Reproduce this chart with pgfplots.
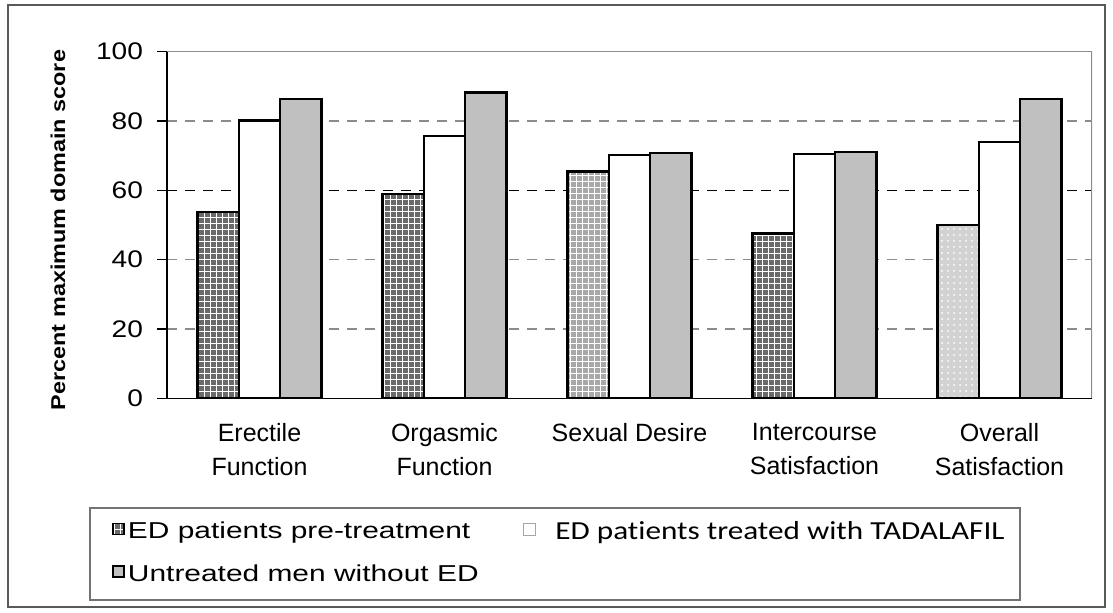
\documentclass[border=0pt]{standalone}
\usepackage{fontspec}
\setmainfont{Liberation Sans}
\newfontfamily\legfont{Liberation Sans}[FakeStretch=1.3]
\newfontfamily\ylabfont{Liberation Sans}[FakeStretch=1.17]
\newfontfamily\tickfont{Liberation Sans}[FakeStretch=1.17]
\newfontfamily\carlito{Carlito}[FakeStretch=1.2, Ligatures=NoCommon]
\usepackage{pgfplots}
\pgfplotsset{compat=1.18}
\usetikzlibrary{patterns}
\definecolor{ungray}{HTML}{C0C0C0}
\definecolor{darkpre}{HTML}{6A6A6A}
\definecolor{medpre}{HTML}{A8A8A8}
\definecolor{lightpre}{HTML}{D2D2D2}
\begin{document}
\begin{tikzpicture}
\useasboundingbox (0pt,0pt) rectangle (556.5pt,306.5pt);
\draw[black!65, line width=1pt] (4pt,3pt) rectangle (552.5pt,304pt);
\draw[black!55, line width=0.7pt] (45pt,6.5pt) rectangle (510pt,52.5pt);
\node[rotate=90, font=\ylabfont\bfseries\fontsize{10}{12}\selectfont] at (29pt,191.5pt) {Percent maximum domain score};
\begin{axis}[
  at={(83.5pt,107.35pt)}, anchor=south west,
  scale only axis, width=462.5pt, height=173.3pt,
  xmin=-0.5, xmax=4.5, ymin=0, ymax=100,
  axis lines*=left,
  axis line style={black, line width=0.7pt},
  ytick={0,20,...,100},
  xtick={0,1,2,3,4},
  xticklabels={Erectile\\Function, Orgasmic\\Function, Sexual Desire, Intercourse\\Satisfaction, Overall\\Satisfaction},
  xticklabel style={align=center, anchor=north, font=\fontsize{12.5}{17}\selectfont, yshift=-4pt},
  yticklabel style={font=\tickfont\fontsize{12}{14}\selectfont, xshift=-3.5pt},
  /pgf/number format/assume math mode=true,
  minor xtick={-0.5,0.5,1.5,2.5,3.5,4.5},
  xtick style={draw=none},
  minor x tick style={black, line width=0.6pt},
  ytick style={black, line width=0.6pt},
  major tick length=5pt, minor tick length=3.5pt,
  tick align=outside,
  ymajorgrids,
  grid style={black!45, line width=0.6pt, dash pattern=on 5pt off 4pt},
  extra y ticks={60}, extra y tick labels={},
  extra y tick style={grid style={black, line width=0.7pt, dash pattern=on 5pt off 4pt}, tick style={draw=none}},
  ybar, bar width=0.224,
  legend columns=2,
  legend style={at={(-0.05946,-0.3454)}, anchor=north west, draw=none, fill=none,
    inner sep=0pt, row sep=8pt, font=\legfont\fontsize{11.5}{13}\selectfont,
    nodes={inner sep=1.5pt},
    /tikz/column 2/.style={column sep=20.5pt}},
  legend cell align=left,
  legend image code/.code={\draw[#1, line width=0.8pt] (0pt,-1.35pt) rectangle (5.5pt,4.15pt);},
]
\addplot[draw=black, line width=1.25pt, fill=darkpre, bar shift=-0.224,
  postaction={pattern=grid, pattern color=white}]
  coordinates {(0,53.8) (1,58.9) (3,47.6)};
\addlegendentry{ED patients pre-treatment}
\addplot[forget plot, draw=black, line width=1.25pt, fill=medpre, bar shift=-0.224,
  postaction={pattern=grid, pattern color=white}]
  coordinates {(2,65.4)};
\addplot[forget plot, draw=black, line width=1.25pt, fill=lightpre, bar shift=-0.224,
  postaction={pattern=dots, pattern color=white}]
  coordinates {(4,50.0)};
\addplot[draw=black, line width=1.25pt, fill=white, bar shift=0,
  legend image code/.code={\draw[black!35, line width=0.5pt, fill=white] (0pt,-1.6pt) rectangle (6pt,4.4pt); \path (14pt,0pt);}]
  coordinates {(0,80.1) (1,75.7) (2,70.2) (3,70.5) (4,74.0)};
\addlegendentry{\carlito\fontsize{13}{14}\selectfont ED patients treated with TADALAFIL}
\addplot[draw=black, line width=1.25pt, fill=ungray, bar shift=0.224]
  coordinates {(0,86.4) (1,88.2) (2,70.7) (3,71.1) (4,86.3)};
\addlegendentry{Untreated men without ED}
\draw[black!45, line width=0.8pt] (rel axis cs:0,1) -- (rel axis cs:1,1) -- (rel axis cs:1,0);
\end{axis}
\end{tikzpicture}
\end{document}
